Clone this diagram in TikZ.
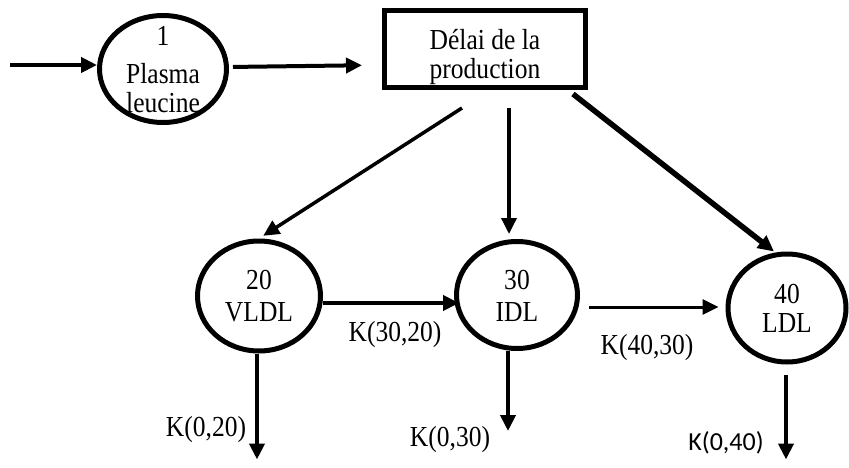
\documentclass[tikz,border=0pt]{standalone}
\usepackage{fontspec}
\usepackage{graphicx}
\setmainfont{Liberation Serif}
\newfontfamily\calfont{Carlito}
\usetikzlibrary{arrows.meta,shapes.geometric,calc}

% condensed, centred lines of text; #1 = height of the strut on the first line
\newcommand\txtlines[2]{\scalebox{0.88}[1]{\begin{tabular}{@{}c@{}}\rule{0pt}{#1}#2\end{tabular}}}

\tikzset{
  pool/.style={ellipse, draw, line width=5pt, inner sep=-20pt},
  delaybox/.style={rectangle, draw, line width=5pt, inner sep=0pt,
               minimum width=201pt, minimum height=77pt},
  flow/.style={-{Triangle[length=16pt,width=15pt]}, line width=4pt},
  rate/.style={inner sep=0pt, font=\fontsize{29}{32}\selectfont},
}

\begin{document}
\begin{tikzpicture}[x=1pt, y=1pt]
  \useasboundingbox (0,0) rectangle (849,467);

  % compartments
  \node[pool, minimum width=127pt, minimum height=107pt,
        font=\fontsize{29}{29}\selectfont] (plasma) at (163,398)
       {\txtlines{28pt}{1\\[9pt]Plasma\\leucine}};
  \node[delaybox, font=\fontsize{29}{28}\selectfont] (delay) at (485,418)
       {\txtlines{38.6pt}{Délai de la\\production}};
  \node[pool, minimum width=123pt, minimum height=110pt,
        font=\fontsize{29}{32}\selectfont] (vldl) at (259,171)
       {\txtlines{29.4pt}{20\\VLDL}};
  \node[pool, minimum width=121pt, minimum height=107pt,
        font=\fontsize{29}{32}\selectfont] (idl) at (517,172)
       {\txtlines{31.4pt}{30\\IDL}};
  \node[pool, minimum width=118pt, minimum height=108pt,
        font=\fontsize{29}{29}\selectfont] (ldl) at (787,159)
       {\txtlines{29.3pt}{40\\LDL}};

  % free ends of the connectors
  \coordinate (input) at (10,402);
  \coordinate (dA) at ($(delay.south)+(-23,-18)$);
  \coordinate (dB) at ($(delay.south)+(24,-18)$);
  \coordinate (dC) at ($(delay.south east)+(-15,-4)$);
  \coordinate (vOut) at ($(vldl.south)+(-2,-106)$);
  \coordinate (iOut) at ($(idl.south)+(-9,-80)$);
  \coordinate (lOut) at ($(ldl.south)+(-1,-95)$);

  % input and production delay
  \draw[flow] (input) -- (input -| plasma.west);
  \draw[flow, shorten <=4pt, shorten >=20pt] ($(plasma.east)+(0,2)$) -- ($(delay.west)+(0,-16)$);

  % delay to the lipoprotein pools
  \draw[flow, line width=3.5pt, shorten >=5pt] (dA) -- (vldl.north);
  \draw[flow, line width=3.5pt, shorten >=5pt] (dB) -- (dB |- idl.north);
  \draw[flow, line width=5.5pt] (dC) -- ($(ldl.north)+(-13,0)$);

  % transfers between pools
  \draw[flow] ($(vldl.east)+(0,-7)$) -- ($(idl.west)+(5,-8)$);
  \draw[flow, line width=3pt] ($(idl.east)+(9,-12)$) -- ($(ldl.west)+(-7,1)$);

  % losses
  \draw[flow] ($(vldl.south)+(-2,0)$) -- (vOut);
  \draw[flow] ($(idl.south)+(-9,0)$) -- (iOut);
  \draw[flow] ($(ldl.south)+(-1,-10)$) -- (lOut);

  % rate constants
  \node[rate] (k3020) at (395,132) {\scalebox{0.88}[1]{K(30,20)}};
  \node[rate] (k4030) at (647,119) {\scalebox{0.88}[1]{K(40,30)}};
  \node[rate] (k020) at (206,37) {\scalebox{0.88}[1]{K(0,20)}};
  \node[rate] (k030) at (450,27) {\scalebox{0.88}[1]{K(0,30)}};
  \node[rate, font=\calfont\fontsize{26}{30}\selectfont] (k040) at (726,24) {K(0,40)};
\end{tikzpicture}
\end{document}
